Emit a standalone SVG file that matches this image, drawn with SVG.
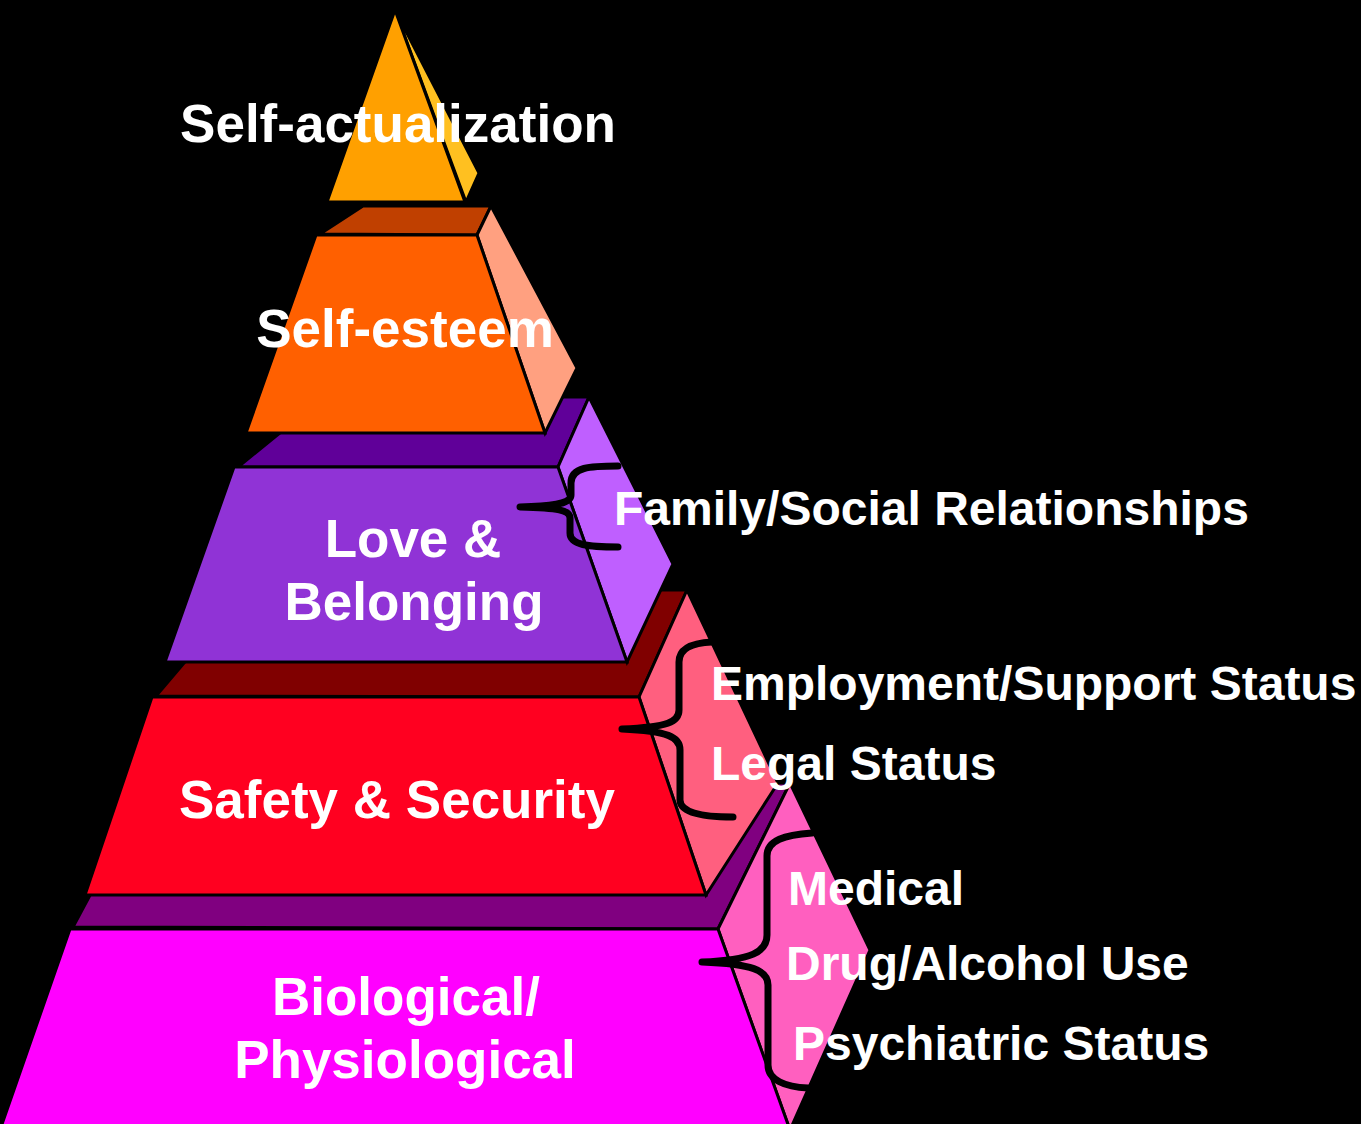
<svg xmlns="http://www.w3.org/2000/svg" width="1361" height="1124" viewBox="0 0 1361 1124">
<style>
.f{stroke:#000;stroke-width:3;stroke-linejoin:miter}
.lbl{font-family:"Liberation Sans",Arial,sans-serif;font-weight:bold;fill:#fff;font-size:53px;text-anchor:middle}
.side{font-family:"Liberation Sans",Arial,sans-serif;font-weight:bold;fill:#fff;font-size:48px}
.brace{fill:none;stroke:#000;stroke-width:7;stroke-linecap:round;stroke-linejoin:round}
</style>
<rect x="0" y="0" width="1361" height="1124" fill="#000"/>
<g id="level5-biological">
<polygon class="f" fill="#800080" points="73,927 150,783 790,783 718,929"/>
<polygon class="f" fill="#FF5FBF" points="718,929 790,783 870,950 790,1130"/>
<polygon class="f" fill="#FF00FF" points="70,929 718,929 790,1130 0,1130"/>
</g>
<g id="level4-safety">
<polygon class="f" fill="#800000" points="156,696 246,590 687,590 639,697"/>
<polygon class="f" fill="#FF5F7F" points="639,697 687,590 778,783 706,895"/>
<polygon class="f" fill="#FF0020" points="152,697 639,697 706,895 85,895"/>
</g>
<g id="level3-love">
<polygon class="f" fill="#600099" points="238,467 324,397 589,397 558,467"/>
<polygon class="f" fill="#BF5FFF" points="558,467 589,397 673,564 627,662"/>
<polygon class="f" fill="#9033D6" points="234,467 558,467 627,662 165,662"/>
</g>
<g id="level2-esteem">
<polygon class="f" fill="#C04000" points="320,234 363,206 491,206 477,235"/>
<polygon class="f" fill="#FFA080" points="477,235 491,206 577,368 545,433"/>
<polygon class="f" fill="#FF6000" points="316,235 477,235 545,433 246,433"/>
</g>
<g id="level1-actualization">
<polygon class="f" fill="#FFC020" points="395,10 479,173 466,202"/>
<polygon class="f" fill="#FFA000" points="395,10 465,202 327,202"/>
</g>
<g id="connectors">
<path class="brace" d="M618,466 C590,466 571,467 571,483 L571,495 C571,503 558,506 520,507 C558,508 570,510 570,518 L570,533 C570,545 588,547 618,547"/>
<path class="brace" d="M712,642 C692,643 679,648 679,662 L679,710 C679,722 668,727 622,729 C668,731 680,737 680,750 L680,800 C680,812 700,817 733,817"/>
<path class="brace" d="M812,833 C785,835 767,840 767,856 L767,935 C767,952 752,960 702,962 C752,964 768,970 768,985 L768,1065 C768,1080 785,1087 808,1088"/>
</g>
<g id="labels">
<text class="lbl" x="398" y="142">Self-actualization</text>
<text class="lbl" x="405" y="347">Self-esteem</text>
<text class="lbl" x="413" y="557">Love &amp;</text>
<text class="lbl" x="414" y="620">Belonging</text>
<text class="lbl" x="397" y="818">Safety &amp; Security</text>
<text class="lbl" x="406" y="1015">Biological/</text>
<text class="lbl" x="405" y="1078">Physiological</text>
<text class="side" x="614" y="525">Family/Social Relationships</text>
<text class="side" x="711" y="700">Employment/Support Status</text>
<text class="side" x="711" y="780">Legal Status</text>
<text class="side" x="788" y="905">Medical</text>
<text class="side" x="786" y="980">Drug/Alcohol Use</text>
<text class="side" x="793" y="1060">Psychiatric Status</text>
</g>
</svg>
